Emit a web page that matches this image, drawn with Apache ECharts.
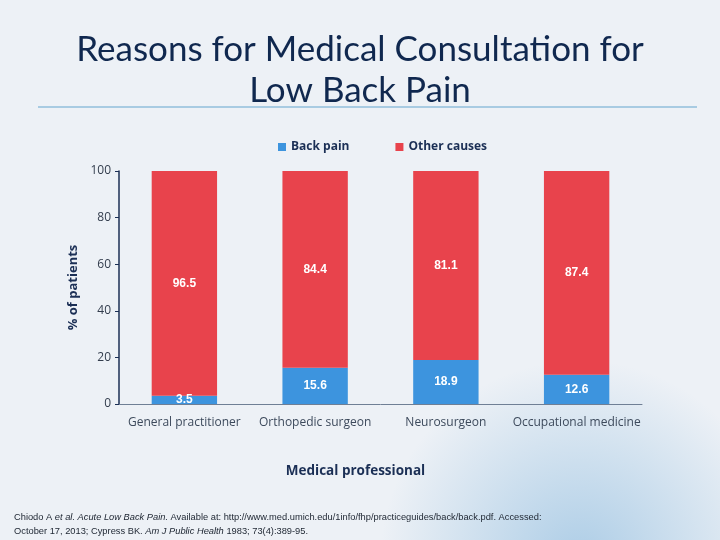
<!DOCTYPE html>
<html>
<head>
<meta charset="utf-8">
<script src="https://cdn.jsdelivr.net/npm/echarts@6/dist/echarts.min.js"></script>
<style>
  html, body { margin: 0; padding: 0; background: #edf1f6; }
</style>
</head>
<body>
<div id="main" style="width: 720px; height: 540px;"></div>
<script>
var categories = ["General practitioner", "Orthopedic surgeon", "Neurosurgeon", "Occupational medicine"];
var backPain = [3.5, 15.6, 18.9, 12.6];
var otherCauses = [96.5, 84.4, 81.1, 87.4];
var yTicks = [0, 20, 40, 60, 80, 100];

var chart = echarts.init(document.getElementById("main"));

var labelStyle = {
  show: true,
  position: "inside",
  color: "#ffffff",
  fontWeight: "bold",
  fontSize: 12,
  fontFamily: "Liberation Sans"
};

var options = {
  backgroundColor: "#edf1f6",
  title: {
    text: "Reasons for Medical Consultation for\nLow Back Pain",
    left: "center",
    top: 24,
    textStyle: {
      color: "#10284f",
      fontSize: 35,
      fontWeight: "normal",
      fontFamily: "Lato",
      lineHeight: 41
    }
  },
  legend: {
    top: 136,
    left: 273,
    itemWidth: 8,
    itemHeight: 8,
    itemGap: 46,
    icon: "rect",
    textStyle: { color: "#1b2f55", fontWeight: "bold", fontSize: 12, fontFamily: "Open Sans" },
    data: ["Back pain", "Other causes"]
  },
  grid: { left: 119, right: 78, top: 171, bottom: 136 },
  xAxis: {
    type: "category",
    data: categories,
    name: "Medical professional",
    nameLocation: "middle",
    nameGap: 60,
    nameTextStyle: { color: "#1b2f55", fontWeight: "bold", fontSize: 13.5, fontFamily: "Open Sans", padding: [0, 50, 0, 0] },
    axisLine: { lineStyle: { color: "#6f7f95", width: 1 } },
    axisTick: { show: false },
    axisLabel: { color: "#3d4a5c", fontSize: 12, fontFamily: "Open Sans", margin: 13, interval: 0 }
  },
  yAxis: {
    type: "value",
    min: 0,
    max: 100,
    interval: 20,
    name: "% of patients",
    nameLocation: "middle",
    nameGap: 38,
    nameTextStyle: { color: "#1b2f55", fontWeight: "bold", fontSize: 13, fontFamily: "Open Sans" },
    axisLine: { show: true, lineStyle: { color: "#1b2f55", width: 1.5 } },
    axisTick: { show: true, length: 4, lineStyle: { color: "#1b2f55" } },
    splitLine: { show: false },
    axisLabel: {
      color: "#333d4d",
      fontSize: 12,
      fontFamily: "Open Sans",
      formatter: function (v) { return yTicks.indexOf(v) >= 0 ? String(v) : ""; }
    }
  },
  series: [
    {
      name: "Back pain",
      type: "bar",
      stack: "total",
      barWidth: "50%",
      data: backPain,
      itemStyle: { color: "#3d94de" },
      label: labelStyle
    },
    {
      name: "Other causes",
      type: "bar",
      stack: "total",
      barWidth: "50%",
      data: otherCauses,
      itemStyle: { color: "#e8434c" },
      label: labelStyle
    }
  ],
  graphic: [
    {
      type: "circle",
      shape: { cx: 580, cy: 560, r: 200 },
      style: {
        fill: {
          type: "radial", x: 0.5, y: 0.5, r: 0.5,
          colorStops: [
            { offset: 0, color: "rgba(110,170,215,0.5)" },
            { offset: 1, color: "rgba(110,170,215,0)" }
          ]
        }
      },
      z: -10
    },
    {
      type: "line",
      shape: { x1: 38, y1: 107, x2: 697, y2: 107 },
      style: { stroke: "#a8cbe2", lineWidth: 2 }
    },
    {
      type: "text",
      left: 14,
      top: 513,
      style: {
        text: "{n|Chiodo A }{i|et al. Acute Low Back Pain.}{n| Available at: http://www.med.umich.edu/1info/fhp/practiceguides/back/back.pdf. Accessed:}\n{n|October 17, 2013; Cypress BK. }{i|Am J Public Health}{n| 1983; 73(4):389-95.}",
        rich: {
          n: { fontSize: 9.3, fontFamily: "Liberation Sans", fill: "#222a36", lineHeight: 14 },
          i: { fontSize: 9.3, fontStyle: "italic", fontFamily: "Liberation Sans", fill: "#222a36", lineHeight: 14 }
        }
      }
    }
  ]
};

chart.setOption(options);
</script>
</body>
</html>
